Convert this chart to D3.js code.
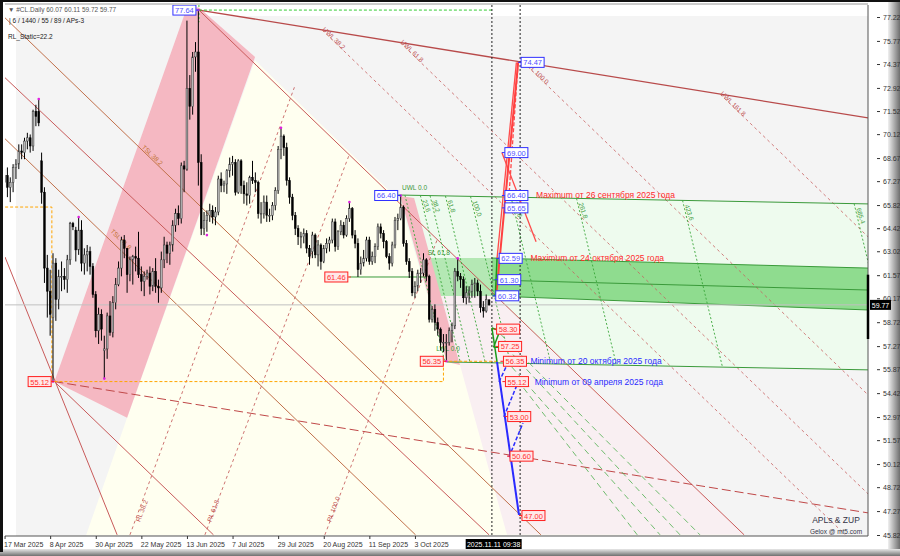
<!DOCTYPE html>
<html><head><meta charset="utf-8">
<script src="https://cdn.jsdelivr.net/npm/d3@7"></script>
<style>body{margin:0;background:#fff}svg{display:block}text{font-family:"Liberation Sans",Arial,sans-serif}</style>
</head><body>
<svg id="c" width="900" height="556"></svg>
<script>
// ---------- DATA ----------
const xTickIdx = [0,16,32,48,64,80,96,112,128,144];
const xTickLabels = ["17 Mar 2025","8 Apr 2025","30 Apr 2025","22 May 2025","13 Jun 2025","7 Jul 2025","29 Jul 2025","20 Aug 2025","11 Sep 2025","3 Oct 2025"];
const priceTicks = [77.22,75.77,74.37,72.92,71.52,70.12,68.67,67.27,65.82,64.42,63.02,61.57,60.17,58.72,57.27,55.87,54.42,52.97,51.57,50.12,48.72,47.27,45.82];
// daily OHLC, bar index 0 = 17 Mar 2025
const candles = [
[67.2,68.0,66.9,67.6],[67.6,68.1,66.3,66.9],[66.9,67.5,66.0,67.2],[67.2,68.3,66.6,68.1],[68.1,68.6,67.4,68.3],
[68.3,69.5,68.0,69.1],[69.1,69.5,68.6,69.0],[69.0,69.9,68.6,69.7],[69.7,70.2,69.2,69.9],[69.9,70.1,69.0,69.4],
[69.4,71.6,69.1,71.5],[71.5,71.9,70.6,71.2],[71.5,72.25,70.6,70.8],[68.5,69.0,65.9,66.6],[66.6,66.9,61.1,62.0],
[62.0,62.8,59.0,60.6],[60.6,61.9,57.9,59.2],[59.0,62.9,55.12,62.3],[62.3,62.6,58.8,60.1],[60.1,61.9,59.5,61.5],
[61.5,62.4,60.6,61.5],[61.5,62.0,60.7,61.3],[61.3,62.8,60.5,62.5],[62.5,64.8,62.2,64.7],[64.7,64.8,64.3,64.5],
[64.3,64.5,62.4,63.1],[63.1,65.1,62.8,64.3],[64.3,64.9,61.8,62.3],[62.3,63.2,61.6,62.8],[62.8,63.4,61.8,63.0],
[63.0,63.3,61.6,62.1],[62.1,62.3,60.2,60.4],[60.4,60.6,57.8,58.2],[58.2,59.6,57.4,59.2],[59.2,59.5,57.6,58.3],
[57.0,57.9,55.3,57.1],[57.1,59.3,56.5,59.1],[59.1,60.0,57.9,58.1],[58.1,60.3,57.8,59.9],[59.9,61.4,59.5,61.0],
[61.0,62.4,60.9,62.0],[62.0,63.9,61.5,63.7],[63.7,64.0,62.6,63.2],[63.2,63.2,60.5,61.6],[61.6,62.7,61.2,62.5],
[62.5,62.8,61.0,62.7],[62.7,63.3,61.8,62.6],[62.6,64.2,61.4,61.6],[61.6,62.1,60.6,61.2],[61.2,61.8,60.3,61.5],
[61.5,61.9,61.3,61.7],[61.7,62.1,60.4,60.9],[60.9,62.0,60.6,61.8],[61.8,62.6,60.5,60.9],[60.9,61.3,59.9,60.8],
[60.8,63.0,60.5,62.5],[62.5,63.9,62.0,63.4],[63.4,63.6,62.3,62.9],[62.9,63.6,62.2,63.4],[63.4,64.9,63.0,64.6],
[64.6,65.6,64.2,65.3],[65.3,65.8,64.6,65.0],[65.0,68.4,64.7,68.2],[68.2,68.5,66.6,68.0],[68.0,77.0,67.9,72.9],
[72.9,73.7,71.0,71.8],[71.8,75.1,71.3,74.8],[74.8,75.7,73.9,75.1],[75.1,77.64,67.0,68.4],[68.4,68.9,64.0,64.4],
[64.4,65.4,64.0,64.9],[64.9,65.5,64.2,65.2],[65.2,65.9,64.8,65.5],[65.5,65.8,64.7,65.1],[65.1,65.7,64.6,65.4],
[65.4,67.6,65.2,67.4],[67.4,67.8,66.6,67.0],[67.0,67.3,66.6,67.1],[67.1,68.0,66.5,67.9],[67.9,68.7,67.5,68.3],
[68.3,68.8,67.6,68.4],[68.4,68.6,66.4,66.6],[66.6,68.6,66.5,68.5],[68.5,68.6,66.5,67.0],[67.0,67.3,65.9,66.5],
[66.5,67.2,65.8,66.4],[66.4,67.6,65.9,67.5],[67.5,68.5,67.1,67.3],[67.3,67.8,66.6,67.2],[67.2,67.3,65.0,65.3],
[65.3,66.0,64.7,65.3],[65.3,66.4,65.0,66.0],[66.0,66.4,64.8,65.2],[65.2,65.6,64.8,65.2],[65.2,66.0,64.9,65.8],
[65.8,66.9,65.5,66.7],[66.7,69.4,66.5,69.2],[69.2,70.5,68.6,70.0],[70.0,70.1,68.8,69.3],[69.3,69.6,67.0,67.3],
[67.3,67.5,65.9,66.3],[66.3,66.5,64.9,65.2],[65.2,65.4,64.0,64.4],[64.4,64.6,63.4,63.9],[63.9,64.2,63.2,63.9],
[63.9,64.4,63.5,64.1],[64.1,64.3,62.9,63.2],[63.2,63.4,62.2,62.7],[63.0,64.2,62.6,64.0],[64.0,64.1,62.6,62.8],
[62.8,63.7,62.1,63.4],[63.4,63.5,61.9,62.4],[62.4,63.4,62.3,63.2],[63.2,63.8,62.9,63.5],[63.5,63.9,63.0,63.7],
[63.7,65.0,63.5,64.8],[64.8,65.0,63.0,63.3],[63.3,64.3,63.1,64.2],[64.2,64.9,64.0,64.6],[64.6,64.8,63.8,64.0],
[64.0,65.2,63.9,65.0],[65.0,66.0,64.8,65.6],[65.6,65.7,63.8,64.0],[64.0,64.3,63.2,63.5],[63.5,63.8,61.46,61.9],
[61.9,62.7,61.6,62.3],[62.3,63.1,62.1,62.6],[62.6,63.9,62.4,63.7],[63.7,63.9,62.2,62.4],[62.4,63.0,62.2,62.7],
[62.7,63.5,62.3,63.3],[63.3,64.7,63.1,64.5],[64.5,64.7,63.8,64.1],[64.1,64.3,63.2,63.6],[63.6,63.7,62.6,62.7],
[62.7,62.9,61.9,62.3],[62.3,63.6,62.1,63.4],[63.4,65.1,63.2,64.9],[64.9,65.3,64.3,65.0],[65.0,66.40,64.9,65.7],
[65.7,65.8,63.3,63.5],[63.5,63.7,62.2,62.4],[62.4,62.6,61.4,61.8],[61.8,62.0,60.3,60.5],[60.5,61.2,60.2,60.9],
[60.9,61.9,60.6,61.7],[61.7,62.0,61.1,61.7],[61.7,62.9,61.5,62.5],[62.5,62.6,61.2,61.5],[61.5,61.6,58.7,58.9],
[58.9,59.7,58.7,59.5],[59.5,59.8,58.2,58.7],[58.7,59.0,57.9,58.3],[58.3,58.4,57.0,57.5],[57.5,58.0,56.9,57.5],
[57.5,58.0,56.35,57.5],[57.5,58.4,57.3,58.2],[58.2,58.7,57.5,58.5],[58.5,62.0,58.3,61.8],[61.8,62.59,61.2,61.5],
[61.5,61.7,60.8,61.3],[61.3,61.5,59.9,60.2],[60.2,60.9,59.8,60.5],[60.5,60.9,59.9,60.6],[60.6,61.3,60.2,61.0],
[61.0,61.4,60.2,61.1],[61.1,61.3,60.3,60.6],[60.6,61.0,59.3,59.6],[59.6,60.0,59.0,59.4],[59.4,60.4,59.3,60.1],
[60.07,60.11,59.72,59.77]
];
const pivots = [[12,72.25],[17,55.12],[26,65.1],[35,55.3],[68,77.64],[71,64.0],[97,70.5],[121,66.0],[139,66.40],[155,56.35],[159,62.59]];
const lastPrice = 59.77;

// shaded areas (bar index, price)
const pinkBand  = [[17.5,55.12],[64.0,77.8],[68.2,77.8],[87.9,74.8],[43.0,52.92]];
const yellowArea = [[87.9,74.6],[259.5,45.8],[28.6,45.8],[43.0,52.92]];
const lightPinkArea = [[153.1,60.31],[172.1,60.31],[259.5,45.83],[176.3,45.83]];
const lightGreenArea = [[138.1,66.43],[303,65.89],[303,55.83],[155.2,56.31]];
const greenBand = [[171,62.61],[303,62.0],[303,59.46],[171,60.31]];
const greenBandLeft = [[148.3,62.61],[171,62.61],[171,60.31],[152.8,60.31]];
const pinkSmall = [[138.8,66.37],[143.7,66.25],[159.8,56.13],[155.2,56.31]];

// lines: [i1,p1,i2,p2,color,width,dash]
const lines = [
 [68.2,77.64,303,71.10,"#b84a4a",1.3,""],          // upper line from the 77.64 top
 [68.2,77.64,259.5,45.83,"#c85a5a",1,""],          // TSL 0.0
 [0.16,77.17,188.2,45.83,"#c0704a",1,""],          // TSL 38.2
 [0.16,73.54,170.0,45.83,"#c85a5a",1,""],          // TSL 50
 [0.16,69.84,144.2,45.83,"#c0704a",1,""],          // TSL 61.8
 [17.5,55.12,73.3,45.83,"#c85a5a",1,""],           // TSL 100 (through 55.12)
 [0.16,62.67,39.5,45.83,"#c85a5a",1,""],
 [17.5,55.12,303,47.16,"#c04848",1,"9,4"],          // parallel from 55.12
 [44.0,45.83,101.7,72.96,"#c05050",0.8,"3,3"],      // RL 38.2
 [70.3,45.83,121.0,68.90,"#c05050",0.8,"3,3"],      // RL 61.8
 [112.4,45.83,151.8,63.72,"#c05050",0.8,"3,3"],     // RL 100.0
 [111.4,76.44,295,45.83,"#c86060",0.8,"3,3"],
 [138.8,75.67,303,48.31,"#c86060",0.8,"3,3"],
 [181.9,74.49,303,54.31,"#c86060",0.8,"3,3"],
 [251,72.55,303,63.89,"#c86060",0.8,"3,3"],
 [171,62.61,303,62.0,"#3a9a3a",1,""],
 [171,61.28,303,60.67,"#3a9a3a",1,""],
 [171,60.31,303,59.46,"#3a9a3a",1,""],
 [138.1,66.43,303,65.89,"#3a9a3a",1,""],
 [155.2,56.31,303,55.83,"#3a9a3a",1,""],
 [121,61.46,148.3,61.46,"#3a9a3a",1,""],
 [174,58.0,244,45.83,"#4caf4c",0.8,"6,4"],
 [176,57.2,237,45.83,"#4caf4c",0.8,"6,4"],
 [178,56.0,230,45.83,"#4caf4c",0.8,"6,4"],
 [180,55.2,222,45.83,"#4caf4c",0.8,"6,4"]
];
// Fibonacci time lines (start bar on the 66.40 line, end bar on the 56.35 line)
const fibLevels = ["UWL 0.0","23.6","38.2","61.8","100.0","161.8","261.8","423.6","685.4"];
const fibTop = [140.5,145.9,149.3,154.7,163.5,177.7,200.7,237.9,298.1];
const fibTopP = [66.42,66.40,66.39,66.37,66.34,66.30,66.22,66.10,65.90];
const fibBot = [154.5,159.9,163.3,168.7,177.5,191.7,214.7,251.9,312.1];
const fibBotP = [56.31,56.29,56.28,56.26,56.24,56.19,56.12,56.00,55.80];
const lineTags = [
 [111.4,76.44,"UWL 38.2",44,"#c05050"],[138.8,75.67,"UWL 61.8",44,"#c05050"],
 [181.9,74.49,"UWL 100.0",44,"#c05050"],[251,72.55,"UWL 161.8",44,"#c05050"],
 [48,69.3,"TSL 38.2",44,"#c07030"],[37,64.2,"TSL 61.8",44,"#c07030"],
 [47.5,46.6,"RL 38.2",-69,"#c05050"],[72.5,46.6,"RL 61.8",-69,"#c05050"],[114.5,46.6,"RL 100.0",-69,"#c05050"],
 [148.5,62.8,"SL 61.8",0,"#3a9a3a"],[151.5,57.0,"LWL 0.0",0,"#3a9a3a"]
];
const orangeDash = [[[0.2,65.7],[16.6,65.7],[16.6,55.1]],[[17.5,55.12],[154.0,55.12],[154.0,56.35],[172.8,56.35]]];
const redZig = [[172.5,60.32],[180.2,74.47]];
const redThin = [[[172.8,62.59],[179.6,74.47]],[[174.5,69.0],[186.5,63.6]],[[180.2,74.47],[177.0,66.4]]];
const blueMain = [[172.8,56.31],[180.5,47.04]];
const blueDash = [[[173.5,55.1],[176.3,56.13]],[[175.2,52.98],[179.8,54.92]],[[177.0,50.55],[181.9,52.61]]];
const greenZig = [[[171,58.37],[172.8,56.31]],[[171,58.37],[173.8,58.2]],[[171.6,57.2],[173.8,58.2]],[[171.6,57.2],[174.5,57.2]],[[172.2,60.32],[172.8,62.59]]];

// price boxes [i, price, text, kind, side]
const boxes = [
 [68.2,77.64,"77.64","b","L"],[139,66.40,"66.40","b","L"],[180.2,74.47,"74.47","b","R"],
 [174.5,69.00,"69.00","b","R"],[174.5,66.40,"66.40","b","R"],[174.5,65.65,"65.65","b","R"],
 [172.5,62.59,"62.59","b","R"],[172,61.30,"61.30","b","R"],[171.3,60.32,"60.32","b","R"],
 [121.5,61.46,"61.46","r","L"],[171.6,58.30,"58.30","r","R"],[172.3,57.25,"57.25","r","R"],
 [174,56.35,"56.35","r","R"],[174.7,55.12,"55.12","r","R"],[175.5,53.00,"53.00","r","R"],
 [176.3,50.60,"50.60","r","R"],[180.5,47.00,"47.00","r","R"],[155,56.35,"56.35","r","L"],[17.4,55.12,"55.12","r","L"]
];
const notes = [
 [186.5,66.40,"Maximum от 26 сентября 2025 года","#ff2a2a"],
 [184.5,62.59,"Maximum от 24 октября 2025 года","#ff2a2a"],
 [184.5,56.35,"Minimum от 20 октября 2025 года","#2a2aff"],
 [186,55.12,"Minimum от 09 апреля 2025 года","#2a2aff"]
];

// ---------- SCALES ----------
const svg = d3.select("#c");
const x = d3.scaleLinear().domain([0,303]).range([4.55,868.1]);
const y = d3.scaleLinear().domain([77.22,45.82]).range([17,535]);
const L = {l:5,t:5,r:868,b:536};

// frame
const defs = svg.append("defs");
const gR = defs.append("linearGradient").attr("id","gr").attr("x1",0).attr("x2",1);
gR.append("stop").attr("offset",0).attr("stop-color","#f0f0f0");
gR.append("stop").attr("offset",1).attr("stop-color","#6e6e6e");
const gB = defs.append("linearGradient").attr("id","gb").attr("x1",0).attr("x2",0).attr("y1",0).attr("y2",1);
gB.append("stop").attr("offset",0).attr("stop-color","#e8e8e8");
gB.append("stop").attr("offset",1).attr("stop-color","#707070");
defs.append("clipPath").attr("id","clip").append("rect").attr("x",L.l).attr("y",L.t).attr("width",L.r-L.l).attr("height",L.b-L.t);

svg.append("rect").attr("width",900).attr("height",556).attr("fill","#fff");
svg.append("rect").attr("x",888).attr("y",0).attr("width",12).attr("height",556).attr("fill","url(#gr)");
svg.append("rect").attr("x",0).attr("y",549).attr("width",900).attr("height",7).attr("fill","url(#gb)");
svg.append("rect").attr("x",0).attr("y",0).attr("width",900).attr("height",2).attr("fill","#111");
svg.append("rect").attr("x",0).attr("y",0).attr("width",3).attr("height",552).attr("fill","#111");

const plot = svg.append("g").attr("clip-path","url(#clip)");
plot.append("rect").attr("x",L.l).attr("y",L.t).attr("width",L.r-L.l).attr("height",L.b-L.t).attr("fill","#fff");
plot.append("rect").attr("x",16).attr("y",16).attr("width",L.r-16).attr("height",L.b-16).attr("fill","#f4f4f4");

const lg = d3.line().x(d=>x(d[0])).y(d=>y(d[1]));
const poly = (pts,fill,op)=>plot.append("path").attr("d",lg(pts)+"Z").attr("fill",fill).attr("fill-opacity",op||1);
poly(yellowArea,"#fffff0");
poly(lightGreenArea,"#eefbee");
poly(lightPinkArea,"#f9eff2");
poly(greenBandLeft,"#b4e8b4");
poly(greenBand,"#8fdc8f");
poly(pinkBand,"#f5b8c2");
poly(pinkSmall,"#f5b8c2");

// lines
lines.forEach(l=>plot.append("line").attr("x1",x(l[0])).attr("y1",y(l[1])).attr("x2",x(l[2])).attr("y2",y(l[3]))
  .attr("stroke",l[4]).attr("stroke-width",l[5]).attr("stroke-dasharray",l[6]||null));
fibTop.forEach((t,k)=>{
  plot.append("line").attr("x1",x(t)).attr("y1",y(fibTopP[k])).attr("x2",x(fibBot[k])).attr("y2",y(fibBotP[k]))
    .attr("stroke","#3aa63a").attr("stroke-width",0.9).attr("stroke-dasharray","2,2");
  const tx = x(t)+ (k===0?-3:2), ty = y(fibTopP[k]) + (k===0?-5:5);
  const tt = plot.append("text").attr("font-size",6.5).attr("fill","#3a9a3a").text(fibLevels[k]);
  if(k===0) tt.attr("x",tx).attr("y",ty);
  else tt.attr("transform",`translate(${tx},${ty}) rotate(72)`);
});
lineTags.forEach(t=>plot.append("text").attr("transform",`translate(${x(t[0])},${y(t[1])}) rotate(${t[3]})`)
  .attr("font-size",6.5).attr("fill",t[4]).text(t[2]));

// current price line
plot.append("line").attr("x1",L.l).attr("x2",L.r).attr("y1",y(lastPrice)).attr("y2",y(lastPrice)).attr("stroke","#c0c0c0");
// green dashed top line and verticals
plot.append("line").attr("x1",x(68.2)).attr("x2",x(171)).attr("y1",y(77.64)).attr("y2",y(77.64)).attr("stroke","#3c3").attr("stroke-dasharray","3,2");
plot.append("line").attr("x1",x(68.2)).attr("x2",x(68.2)).attr("y1",L.t).attr("y2",y(76.9)).attr("stroke","#3c3").attr("stroke-dasharray","2,2");
[171,180.9].forEach(i=>plot.append("line").attr("x1",x(i)).attr("x2",x(i)).attr("y1",L.t).attr("y2",L.b).attr("stroke","#222").attr("stroke-dasharray","2,2"));

orangeDash.forEach(p=>plot.append("path").attr("d",lg(p)).attr("fill","none").attr("stroke","#ffa500").attr("stroke-dasharray","3,2"));

// candles
const bw = 1.8;
const cg = plot.append("g");
candles.forEach((c,i)=>{
  const cx = x(i), up = c[3]>=c[0];
  cg.append("line").attr("x1",cx).attr("x2",cx).attr("y1",y(c[1])).attr("y2",y(c[2])).attr("stroke","#000").attr("stroke-width",1);
  const t = y(Math.max(c[0],c[3])), b = y(Math.min(c[0],c[3]));
  cg.append("rect").attr("x",cx-bw/2).attr("y",t).attr("width",bw).attr("height",Math.max(b-t,0.8))
    .attr("fill",up?"#b8b8b8":"#000").attr("stroke",up?"#333":"#000").attr("stroke-width",0.5);
});
pivots.forEach(p=>plot.append("circle").attr("cx",x(p[0])).attr("cy",y(p[1])).attr("r",1.3).attr("fill","#e020e0"));

// projections
redThin.forEach((p,k)=>plot.append("path").attr("d",lg(p)).attr("stroke","#ff4a4a").attr("stroke-width",1.3).attr("stroke-dasharray",k===2?"4,2":null).attr("fill","none"));
plot.append("path").attr("d",lg(redZig)).attr("stroke","#ff4040").attr("stroke-width",2).attr("fill","none");
plot.append("path").attr("d",lg(blueMain)).attr("stroke","#2a2aff").attr("stroke-width",2).attr("fill","none");
blueDash.forEach(p=>plot.append("path").attr("d",lg(p)).attr("stroke","#2a2aff").attr("stroke-width",1.5).attr("stroke-dasharray","4,2").attr("fill","none"));
greenZig.forEach(p=>plot.append("path").attr("d",lg(p)).attr("stroke","#1a9a1a").attr("stroke-width",1.5).attr("fill","none"));

// price boxes
boxes.forEach(b=>{
  const blue = b[3]==="b";
  const w = 23, h = 10;
  const px = x(b[0]), py = y(b[1]);
  const bx = b[4]==="R" ? px+3 : px-w-3;
  plot.append("line").attr("x1",px).attr("x2",b[4]==="R"?bx:bx+w).attr("y1",py).attr("y2",py).attr("stroke",blue?"#3030ff":"#ff2020");
  plot.append("rect").attr("x",bx).attr("y",py-h/2).attr("width",w).attr("height",h)
    .attr("fill",blue?"#ffffff":"#ffe8e8").attr("stroke",blue?"#3030ff":"#ff2020").attr("stroke-width",1);
  plot.append("text").attr("x",bx+w/2).attr("y",py+3).attr("text-anchor","middle").attr("font-size",7.5)
    .attr("fill",blue?"#5050ff":"#ff3030").text(b[2]);
});
notes.forEach(n=>plot.append("text").attr("x",x(n[0])).attr("y",y(n[1])+3).attr("font-size",8.5).attr("fill",n[3]).text(n[2]));

// header
svg.append("text").attr("x",8).attr("y",12).attr("font-size",6.5).attr("fill","#555").text("▼  #CL.Daily  60.07 60.11 59.72 59.77");
svg.append("text").attr("x",9).attr("y",23).attr("font-size",6.5).attr("fill","#222").text("| 6 / 1440 / 55 / 89 / APs-3");
svg.append("text").attr("x",8).attr("y",39).attr("font-size",6.5).attr("fill","#222").text("RL_Static=22.2");
svg.append("text").attr("x",836).attr("y",523).attr("font-size",8.5).attr("font-family","Liberation Serif").attr("fill","#334").attr("text-anchor","middle").text("APLs & ZUP");
svg.append("text").attr("x",836).attr("y",534).attr("font-size",6.5).attr("font-family","Liberation Serif").attr("fill","#334").attr("text-anchor","middle").text("Gelox @ mt5.com");

// plot border
svg.append("line").attr("x1",L.r).attr("x2",L.r).attr("y1",L.t).attr("y2",L.b).attr("stroke","#555");
svg.append("line").attr("x1",L.l).attr("x2",L.r).attr("y1",L.b).attr("y2",L.b).attr("stroke","#555");
svg.append("line").attr("x1",L.l).attr("x2",L.r).attr("y1",4).attr("y2",4).attr("stroke","#999");
svg.append("line").attr("x1",L.r).attr("x2",L.r).attr("y1",y(61.6)).attr("y2",y(57.7)).attr("stroke","#000").attr("stroke-width",2.5);

// axes
const ay = svg.append("g").attr("transform",`translate(${L.r+9},0)`)
  .call(d3.axisRight(y).tickValues(priceTicks).tickSize(3).tickFormat(d3.format(".2f")));
ay.select(".domain").remove();
ay.selectAll("text").attr("font-size",7).attr("fill","#333").attr("font-family","Liberation Sans");
ay.selectAll("line").attr("stroke","#333");
const ax = svg.append("g").attr("transform",`translate(0,${L.b})`)
  .call(d3.axisBottom(x).tickValues(xTickIdx).tickSize(3).tickFormat((d,i)=>xTickLabels[i]));
ax.select(".domain").remove();
ax.selectAll("text").attr("font-size",7).attr("fill","#333").attr("text-anchor","start").attr("dx",-1).attr("font-family","Liberation Sans");
ax.selectAll("line").attr("stroke","#333");
// current price tag & time tag
svg.append("rect").attr("x",L.r+2).attr("y",y(lastPrice)-5).attr("width",21).attr("height",10).attr("fill","#000");
svg.append("text").attr("x",L.r+12.5).attr("y",y(lastPrice)+3).attr("text-anchor","middle").attr("font-size",7).attr("fill","#fff").text(lastPrice.toFixed(2));
svg.append("rect").attr("x",x(161.8)).attr("y",L.b+3).attr("width",56).attr("height",10).attr("fill","#000");
svg.append("text").attr("x",x(161.8)+28).attr("y",L.b+11).attr("text-anchor","middle").attr("font-size",7).attr("fill","#fff").text("2025.11.11 09:38");
</script>
</body></html>
